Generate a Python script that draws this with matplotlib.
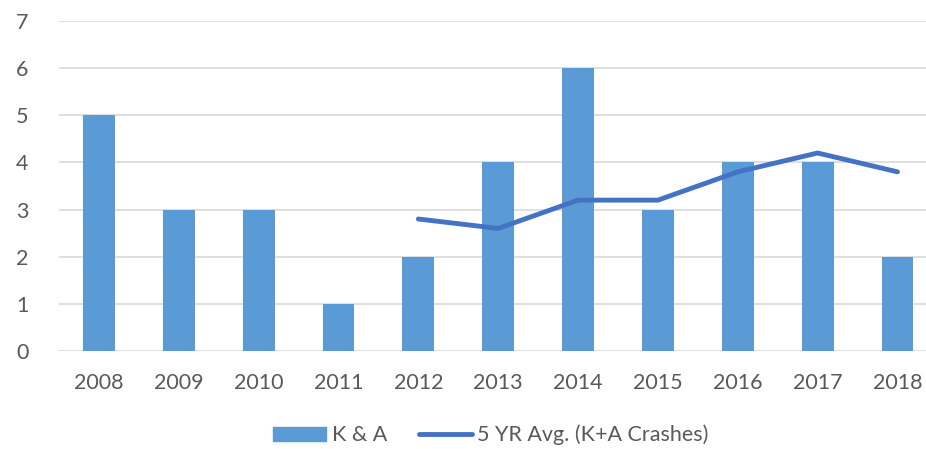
import matplotlib
matplotlib.use("Agg")
import matplotlib.pyplot as plt
from matplotlib.lines import Line2D
from matplotlib.patches import Patch

years = ["2008", "2009", "2010", "2011", "2012", "2013", "2014", "2015", "2016", "2017", "2018"]
ka = [5, 3, 3, 1, 2, 4, 6, 3, 4, 4, 2]
avg_years = ["2012", "2013", "2014", "2015", "2016", "2017", "2018"]
avg5 = [2.8, 2.6, 3.2, 3.2, 3.8, 4.2, 3.8]

plt.rcParams['font.family'] = ['Lato', 'DejaVu Sans']
W, H = 926, 449
fig = plt.figure(figsize=(W/100, H/100), dpi=100)
left, right = 59, 937.4
top, bottom = 21, 351
ax = fig.add_axes([left/W, 1 - bottom/H, (right-left)/W, (bottom-top)/H])

x = list(range(len(years)))
ax.bar(x, ka, width=0.40, color="#5B9BD5", zorder=2)
ax_idx = [years.index(y) for y in avg_years]
ax.plot(ax_idx, avg5, color="#4472C4", lw=3.5, solid_capstyle="round", zorder=3)

ax.set_xlim(-0.5, len(years) - 0.5)
ax.set_ylim(0, 7)
ax.set_yticks(range(0, 8))
ax.set_xticks(x)
ax.set_xticklabels(years)
ax.yaxis.grid(True, color="#D9D9D9", lw=1.2, zorder=0)
ax.set_axisbelow(True)
for s in ax.spines.values():
    s.set_visible(False)
ax.tick_params(length=0, labelsize=15.5, labelcolor="#595959")
ax.tick_params(axis='x', pad=16)
ax.tick_params(axis='y', pad=22)

handles = [Patch(color="#5B9BD5", label="K & A"),
           Line2D([0], [0], color="#4472C4", lw=3.5, solid_capstyle="round", label="5 YR Avg. (K+A Crashes)")]
fig.legend(handles=handles, loc="center", bbox_to_anchor=(491/W, 1 - 435/H), ncol=2, frameon=False,
           fontsize=15.5, labelcolor="#595959", handlelength=2.45, handleheight=0.65, handletextpad=0.25,
           columnspacing=1.5, borderpad=0, borderaxespad=0)

fig.savefig("out.png", dpi=100)
